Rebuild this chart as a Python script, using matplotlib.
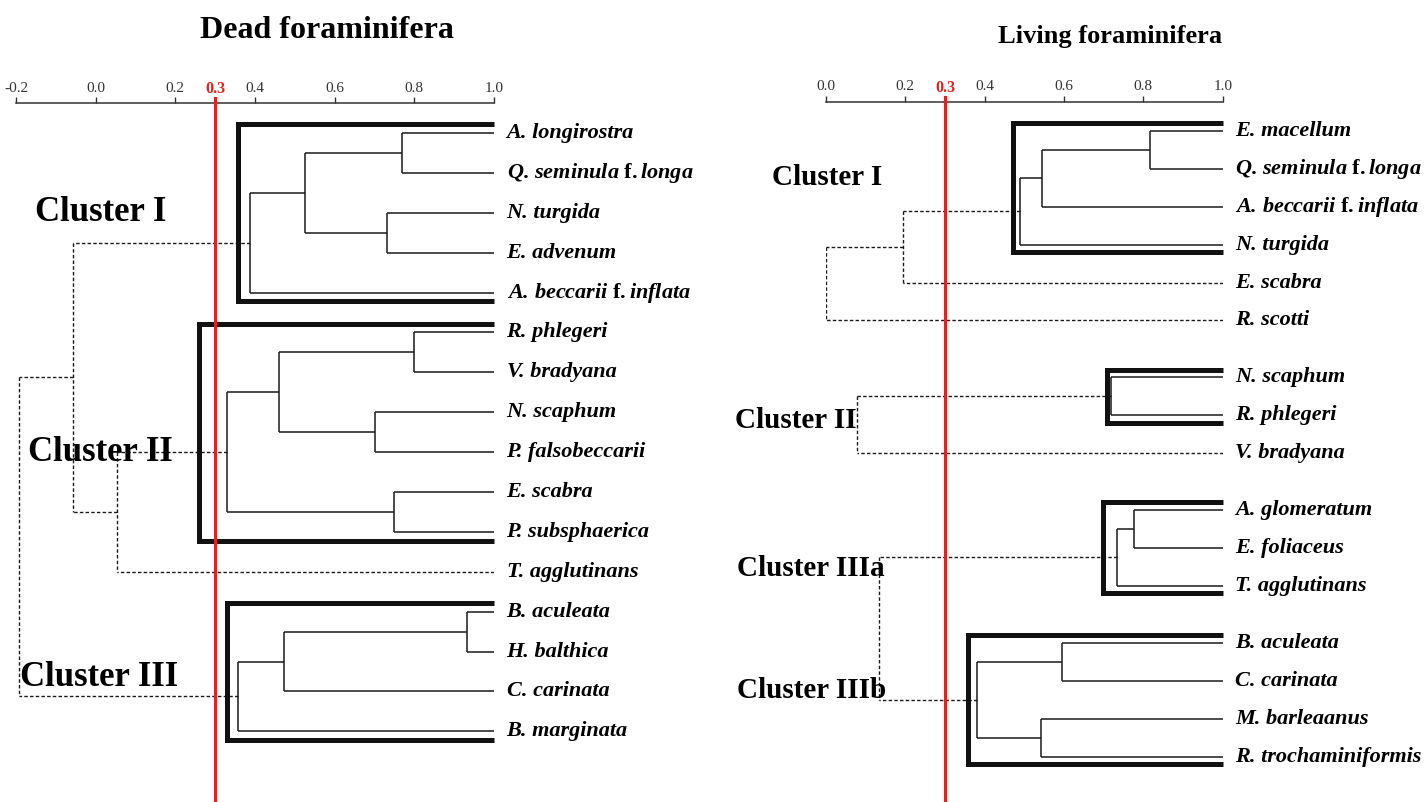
import matplotlib.pyplot as plt
import matplotlib.ticker as pltick

plt.rcParams['font.family'] = ['Liberation Serif', 'DejaVu Serif']
plt.rcParams['mathtext.fontset'] = 'custom'
plt.rcParams['mathtext.it'] = 'Liberation Serif:italic:bold'
plt.rcParams['mathtext.rm'] = 'Liberation Serif:bold'
plt.rcParams['mathtext.bf'] = 'Liberation Serif:bold'
plt.rcParams['axes.unicode_minus'] = False

# Similarity cut-off used to define the clusters
CUTOFF = 0.3

# Dead assemblage: leaves in plotting order, tree as (similarity, child, child)
dead_species = ['A. longirostra', 'Q. seminula f. longa', 'N. turgida', 'E. advenum',
                'A. beccarii f. inflata', 'R. phlegeri', 'V. bradyana', 'N. scaphum',
                'P. falsobeccarii', 'E. scabra', 'P. subsphaerica', 'T. agglutinans',
                'B. aculeata', 'H. balthica', 'C. carinata', 'B. marginata']
dead_tree = (-0.193,
             (-0.058,
              (0.387, (0.525, (0.769, 0, 1), (0.731, 2, 3)), 4),
              (0.053, (0.329, (0.46, (0.80, 5, 6), (0.70, 7, 8)), (0.749, 9, 10)), 11)),
             (0.357, (0.472, (0.932, 12, 13), 14), 15))
dead_box_left = [0.357, 0.259, 0.329]
dead_clusters = ['Cluster I', 'Cluster II', 'Cluster III']
dead_ticks = [-0.2, 0.0, 0.2, 0.4, 0.6, 0.8, 1.0]

# Living assemblage
living_species = ['E. macellum', 'Q. seminula f. longa', 'A. beccarii f. inflata', 'N. turgida',
                  'E. scabra', 'R. scotti', 'N. scaphum', 'R. phlegeri', 'V. bradyana',
                  'A. glomeratum', 'E. foliaceus', 'T. agglutinans', 'B. aculeata',
                  'C. carinata', 'M. barleaanus', 'R. trochaminiformis']
living_groups = [6, 3, 3, 4]
living_trees = [(0.0, (0.194, (0.489, (0.545, (0.817, 0, 1), 2), 3), 4), 5),
                (0.078, (0.718, 6, 7), 8),
                (0.134, (0.733, (0.776, 9, 10), 11), (0.381, (0.595, 12, 13), (0.542, 14, 15)))]
living_box_left = [0.471, 0.708, 0.698, 0.358]
living_clusters = ['Cluster I', 'Cluster II', 'Cluster IIIa', 'Cluster IIIb']
living_ticks = [0.0, 0.2, 0.4, 0.6, 0.8, 1.0]

DASH = (0, (2.5, 1.6))


def draw_tree(ax, node, leaf_y, clusters, parent_h=None):
    # returns (x, y, ymin, ymax) of the node
    if isinstance(node, int):
        y = leaf_y[node]
        return 1.0, y, y, y
    h = node[0]
    kids = [draw_tree(ax, c, leaf_y, clusters, h) for c in node[1:]]
    if h >= CUTOFF:
        style = dict(color='#1a1a1a', lw=1.1)
    else:
        style = dict(color='#1a1a1a', lw=1.0, ls=DASH)
    ys = [k[1] for k in kids]
    for kx, ky, _, _ in kids:
        ax.plot([kx, h], [ky, ky], solid_capstyle='butt', **style)
    ax.plot([h, h], [min(ys), max(ys)], solid_capstyle='butt', **style)
    lo = min(k[2] for k in kids)
    hi = max(k[3] for k in kids)
    if h >= CUTOFF and (parent_h is None or parent_h < CUTOFF):
        clusters.append((lo, hi))
    return h, sum(ys) / len(ys), lo, hi


def fmt_name(name):
    # italic species name, upright "f." for forma
    return name.replace(' f. ', r' $\mathrm{f.}$')


def setup_axis(ax, xlim, ylim, ticks):
    ax.set_xlim(*xlim)
    ax.set_ylim(*ylim)
    for s in ['left', 'right', 'bottom']:
        ax.spines[s].set_visible(False)
    ax.spines['top'].set_linewidth(1.1)
    ax.spines['top'].set_color('#333333')
    ax.xaxis.set_ticks_position('top')
    ax.set_xticks(ticks)
    ax.xaxis.set_major_formatter(pltick.FormatStrFormatter('%.1f'))
    ax.tick_params(axis='x', direction='out', length=4, width=1.0, color='#333333',
                   labelsize=11, labelcolor='#333333', pad=2)
    ax.set_yticks([])
    ax.patch.set_visible(False)
    # cut-off line
    ax.axvline(CUTOFF, ymin=0, ymax=1.007, color='#e4211c', lw=2.2, clip_on=False, zorder=5)
    ax.annotate('0.3', xy=(CUTOFF, 1.0), xycoords=('data', 'axes fraction'), xytext=(0, 4),
                textcoords='offset points', color='#e4211c', fontsize=11.5, fontweight='bold',
                ha='center', va='bottom', zorder=6, annotation_clip=False)


def draw_boxes(ax, clusters, lefts, pad):
    for (lo, hi), left in zip(clusters, lefts):
        ax.plot([1.0, left, left, 1.0], [lo - pad, lo - pad, hi + pad, hi + pad],
                color='#111111', lw=3.6, solid_joinstyle='miter', solid_capstyle='butt',
                clip_on=False, zorder=3)


fig = plt.figure(figsize=(14.27, 8.02), dpi=100)

# ---- Dead foraminifera ----
ax1 = fig.add_axes([16 / 1427, 0, 478 / 1427, 1 - 103 / 802])
dead_y = list(range(len(dead_species)))
setup_axis(ax1, (-0.2, 1.0), (16.77, -0.75), dead_ticks)
clusters = []
draw_tree(ax1, dead_tree, dead_y, clusters)
draw_boxes(ax1, clusters, dead_box_left, 0.22)
for name, y in zip(dead_species, dead_y):
    ax1.annotate(fmt_name(name), xy=(1.0, y), xytext=(9, 0), textcoords='offset points',
                 fontsize=16, fontweight='bold', fontstyle='italic', va='center', ha='left',
                 annotation_clip=False)
for label, (x, y) in zip(dead_clusters, [(-0.153, 2.0), (-0.171, 8.0), (-0.191, 13.65)]):
    ax1.text(x, y, label, fontsize=25, fontweight='bold', va='center', ha='left', zorder=4)

# ---- Living foraminifera ----
ax2 = fig.add_axes([826 / 1427, 0, 396.7 / 1427, 1 - 101.7 / 802])
living_y = []
pos = 0.0
for g in living_groups:
    for i in range(g):
        living_y.append(pos + i)
    pos += g + 0.5
setup_axis(ax2, (0.0, 1.0), (17.70, -0.77), living_ticks)
clusters = []
for tree in living_trees:
    draw_tree(ax2, tree, living_y, clusters)
draw_boxes(ax2, clusters, living_box_left, 0.2)
for name, y in zip(living_species, living_y):
    ax2.annotate(fmt_name(name), xy=(1.0, y), xytext=(9, 0), textcoords='offset points',
                 fontsize=16, fontweight='bold', fontstyle='italic', va='center', ha='left',
                 annotation_clip=False)
for label, (x, y) in zip(living_clusters, [(-0.136, 1.24), (-0.229, 7.63), (-0.224, 11.53), (-0.224, 14.75)]):
    ax2.text(x, y, label, fontsize=21, fontweight='bold', va='center', ha='left', zorder=4)

fig.text(327 / 1427, 1 - 30 / 802, 'Dead foraminifera', fontsize=23, fontweight='bold',
         ha='center', va='center')
fig.text(1110 / 1427, 1 - 37 / 802, 'Living foraminifera', fontsize=19, fontweight='bold',
         ha='center', va='center')

plt.savefig('out.png', dpi=100)
